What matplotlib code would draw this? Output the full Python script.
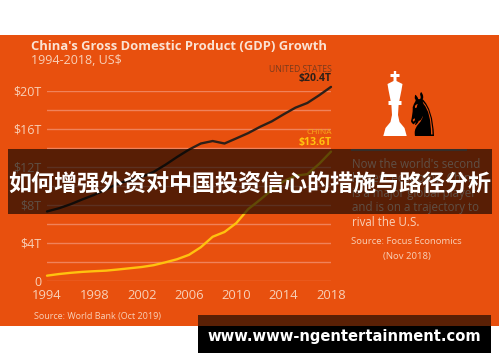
import matplotlib
matplotlib.use("Agg")
import matplotlib.pyplot as plt
from matplotlib.patches import Rectangle, PathPatch
from matplotlib.textpath import TextPath
from matplotlib.font_manager import FontProperties
from matplotlib.transforms import Affine2D

years = list(range(1994, 2019))
us_gdp = [7.31, 7.64, 8.07, 8.58, 9.06, 9.63, 10.25, 10.58, 10.94, 11.46, 12.21, 13.04, 13.81,
          14.45, 14.71, 14.45, 14.99, 15.54, 16.20, 16.78, 17.52, 18.22, 18.71, 19.52, 20.40]
china_gdp = [0.56, 0.73, 0.86, 0.96, 1.03, 1.09, 1.21, 1.34, 1.47, 1.66, 1.96, 2.29, 2.75,
             3.55, 4.65, 5.15, 6.09, 7.55, 8.53, 9.57, 10.48, 11.06, 11.23, 12.31, 13.60]
x_ticks = [1994, 1998, 2002, 2006, 2010, 2014, 2018]
y_labels = {0: "0", 4: "$4T", 8: "$8T", 12: "$12T", 16: "$16T", 20: "$20T"}
grid_levels = [0, 2, 4, 6, 8, 10, 12, 14, 16, 18, 20]
title = "China's Gross Domestic Product (GDP) Growth"
subtitle = "1994-2018, US$"
banner = "如何增强外资对中国投资信心的措施与路径分析"
site = "www.www-ngentertainment.com"
side_text = ["Now the world's second", "largest economy, China", "is a major global player",
             "and is on a trajectory to", "rival the U.S."]

W, H = 500, 362
ORANGE = "#E8500E"
GRID = "#F0825A"
LIGHT = "#F8D0B8"
DARK = "#2E2018"
YELLOW = "#FFC20E"
SANS = ["Open Sans", "DejaVu Sans"]

fig = plt.figure(figsize=(W / 100, H / 100), dpi=100, facecolor="white")

def pixel_axes(z):
    a = fig.add_axes([0, 0, 1, 1], zorder=z)
    a.set_xlim(0, W)
    a.set_ylim(H, 0)
    a.axis("off")
    a.patch.set_alpha(0)
    return a

bg = pixel_axes(0)
bg.add_patch(Rectangle((0, 35), 499, 291, fc=ORANGE, ec="none"))

ax = fig.add_axes([47 / W, 1 - 281 / H, 284 / W, 190.3 / H], zorder=1)
ax.patch.set_alpha(0)
ax.set_xlim(1994, 2018)
ax.set_ylim(0, 20)
for s in ax.spines.values():
    s.set_visible(False)
for g in grid_levels:
    ax.axhline(g, color=GRID, lw=1.0, zorder=1)
ax.plot(years, us_gdp, color=DARK, lw=1.7, zorder=3, clip_on=False, solid_capstyle="round")
ax.plot(years, china_gdp, color=YELLOW, lw=1.7, zorder=4, clip_on=False, solid_capstyle="round")
ax.set_xticks(x_ticks)
ax.set_xticklabels([str(t) for t in x_ticks], fontsize=9.4, color=LIGHT, family=SANS)
ax.set_yticks(list(y_labels))
ax.set_yticklabels(list(y_labels.values()), fontsize=9.0, color=LIGHT, family=SANS)
ax.tick_params(axis="x", length=0, pad=6)
ax.tick_params(axis="y", length=0, pad=4)

t = pixel_axes(2)
t.text(31, 47, title, fontsize=9.4, fontweight="bold", color="#FBE3D3", family=SANS, va="center")
t.text(31, 61, subtitle, fontsize=9.0, color=LIGHT, family=SANS, va="center")
t.text(332, 69.5, "UNITED STATES", fontsize=6.2, color="#7A3A1C", family=SANS, ha="right", va="center")
t.text(332, 78, "$20.4T", fontsize=7.6, fontweight="bold", color=DARK, family=SANS, ha="right", va="center")
t.text(332, 133, "CHINA", fontsize=6.0, color="#F7A81B", family=SANS, ha="right", va="center")
t.text(332, 142, "$13.6T", fontsize=7.6, fontweight="bold", color=YELLOW, family=SANS, ha="right", va="center")

# chess king (decorative icon): half-width profile around a centre line
cx = 395
profile = [(71, 1.2), (74, 1.2), (74, 4.5), (77, 4.5), (77, 1.5), (81, 1.5), (84, 7.5), (90, 6.5),
           (101, 4.3), (101, 6.5), (105, 6.5), (105, 3.6), (115, 3.0), (122, 4.5), (128, 9.5),
           (136, 11.7)]
xs = [cx - w for _, w in profile] + [cx + w for _, w in reversed(profile)]
ys = [y for y, _ in profile] + [y for y, _ in reversed(profile)]
t.fill(xs, ys, color="white", lw=0)

# chess knight (decorative icon): glyph fitted to its box
kp = TextPath((0, 0), "\u265E", size=10, prop=FontProperties(family="DejaVu Sans"))
bb = kp.get_extents()
tr = (Affine2D().translate(-bb.x0, -bb.y0)
      .scale(23 / bb.width, -44 / bb.height).translate(411, 136))
t.add_patch(PathPatch(kp.transformed(tr), fc="black", ec="none"))

t.plot([352, 466], [149.5, 149.5], color="#8A7A70", lw=1.5)
for i, line in enumerate(side_text):
    t.text(352, 164 + i * 14.6, line, fontsize=8.3, color=LIGHT, family=SANS, va="center")
t.text(406, 242, "Source: Focus Economics", fontsize=6.8, color=LIGHT, family=SANS, ha="center", va="center")
t.text(407, 256, "(Nov 2018)", fontsize=6.8, color=LIGHT, family=SANS, ha="center", va="center")
t.text(34, 316, "Source: World Bank (Oct 2019)", fontsize=6.5, color=LIGHT, family=SANS, va="center")

o = pixel_axes(3)
o.add_patch(Rectangle((8, 149), 484, 65, fc="black", alpha=0.62, ec="none"))
o.text(250, 185.5, banner, fontsize=16.6, fontweight="bold", color="white",
       family=["Noto Sans CJK SC", "DejaVu Sans"], ha="center", va="center")
o.add_patch(Rectangle((198, 315), 293, 11, fc="#5A2005", ec="none"))
o.add_patch(Rectangle((198, 326), 293, 27, fc="black", ec="none"))
o.text(207, 336.5, site, fontsize=10.6, fontweight="bold", color="white", family="DejaVu Sans", va="center")

fig.savefig("out.png", dpi=100)
